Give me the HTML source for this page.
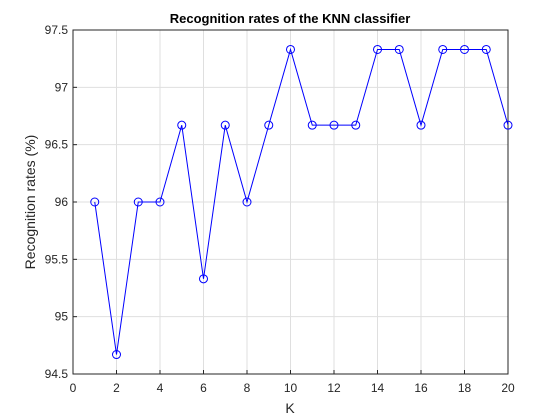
<!DOCTYPE html>
<html><head><meta charset="utf-8"><style>
body{margin:0;background:#fff;}
svg{display:block;font-family:"Liberation Sans",Arial,sans-serif;}
</style></head><body>
<svg id="chart" width="560" height="420">
<rect width="560" height="420" fill="#fff"/>
<g id="grid"></g>
<g id="axes"></g>
<g id="series"></g>
<text x="290" y="23" text-anchor="middle" font-size="13" font-weight="bold" fill="#000">Recognition rates of the KNN classifier</text>
<text x="290" y="413" text-anchor="middle" font-size="14" fill="#262626">K</text>
<text x="0" y="0" transform="translate(35,202) rotate(-90)" text-anchor="middle" font-size="14" fill="#262626">Recognition rates (%)</text>
</svg>
<script>
const kValues=[1,2,3,4,5,6,7,8,9,10,11,12,13,14,15,16,17,18,19,20];
const rates=[96,94.67,96,96,96.67,95.33,96.67,96,96.67,97.33,96.67,96.67,96.67,97.33,97.33,96.67,97.33,97.33,97.33,96.67];
const xTicks=[0,2,4,6,8,10,12,14,16,18,20];
const yTicks=[94.5,95,95.5,96,96.5,97,97.5];
const yTickLabels=["94.5","95","95.5","96","96.5","97","97.5"];
const L=73,R=508,T=30,B=374,xMin=0,xMax=20,yMin=94.5,yMax=97.5;
const sx=v=>L+(v-xMin)/(xMax-xMin)*(R-L);
const sy=v=>B-(v-yMin)/(yMax-yMin)*(B-T);
const NS="http://www.w3.org/2000/svg";
function mk(tag,attrs,parent){const e=document.createElementNS(NS,tag);for(const k in attrs)e.setAttribute(k,attrs[k]);parent.appendChild(e);return e;}
const grid=document.getElementById('grid'),axes=document.getElementById('axes'),series=document.getElementById('series');
xTicks.forEach(t=>{
  const g=mk('line',{x1:sx(t),x2:sx(t),y1:T,y2:B,stroke:'#dfdfdf','stroke-width':1},grid);
  
  
  const tk=mk('line',{x1:sx(t),x2:sx(t),y1:B,y2:B-4,stroke:'#262626'},axes);
  
  
  const tx=mk('text',{x:sx(t),y:B+18,'text-anchor':'middle','font-size':12,fill:'#262626'},axes);
  tx.textContent=t;
  
  
});
yTicks.forEach((t,i)=>{
  const g=mk('line',{x1:L,x2:R,y1:sy(t),y2:sy(t),stroke:'#dfdfdf','stroke-width':1},grid);
  
  
  const tk=mk('line',{x1:L,x2:L+4,y1:sy(t),y2:sy(t),stroke:'#262626'},axes);
  
  
  const tx=mk('text',{x:L-5,y:sy(t)+4,'text-anchor':'end','font-size':12,fill:'#262626'},axes);
  tx.textContent=yTickLabels[i];
  
  
});
const box=mk('rect',{x:L,y:T,width:R-L,height:B-T,fill:'none',stroke:'#262626','stroke-width':1},axes);


const line=mk('polyline',{points:kValues.map((k,i)=>sx(k)+','+sy(rates[i])).join(' '),fill:'none',stroke:'#0000ff','stroke-width':1},series);


kValues.forEach((k,i)=>{
  const c=mk('circle',{cx:sx(k),cy:sy(rates[i]),r:4,fill:'none',stroke:'#0000ff','stroke-width':1},series);
  
  
});
</script>
</body></html>
